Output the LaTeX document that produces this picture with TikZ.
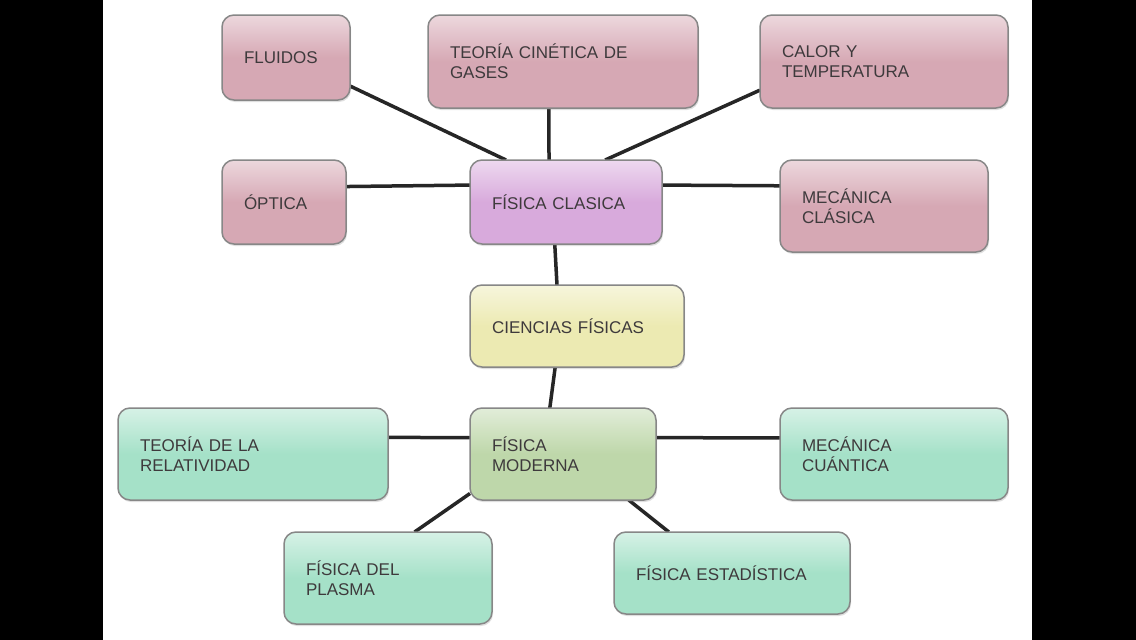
\documentclass[tikz,border=0pt]{standalone}
\usepackage{fontspec}
\setmainfont{Liberation Sans}
\usetikzlibrary{calc,positioning,shadows,backgrounds}

\definecolor{rosa}{RGB}{214,168,180}
\definecolor{lila}{RGB}{216,170,220}
\definecolor{amarillo}{RGB}{236,234,178}
\definecolor{verde}{RGB}{190,215,170}
\definecolor{menta}{RGB}{165,225,200}
\definecolor{borde}{RGB}{135,135,135}
\definecolor{letra}{RGB}{62,58,60}

\tikzset{
  caja/.style={draw=borde, line width=1.5pt, rounded corners=12pt,
    inner xsep=22pt, inner ysep=0pt, outer sep=0pt, align=left,
    text=letra, font=\fontsize{17}{20}\selectfont,
    drop shadow={opacity=.25, shadow xshift=1pt, shadow yshift=-2pt}},
  cajarosa/.style={caja, top color=rosa!45!white, bottom color=rosa, middle color=rosa},
  cajalila/.style={caja, top color=lila!45!white, bottom color=lila, middle color=lila},
  cajaamarilla/.style={caja, top color=amarillo!45!white, bottom color=amarillo, middle color=amarillo},
  cajaverde/.style={caja, top color=verde!45!white, bottom color=verde, middle color=verde},
  cajamenta/.style={caja, top color=menta!45!white, bottom color=menta, middle color=menta},
  enlace/.style={line width=3.5pt, black!85}
}

\begin{document}
\begin{tikzpicture}[x=1pt, y=-1pt]
\useasboundingbox (0,0) rectangle (1136,640);

% fisica clasica
\node[cajarosa, text width=84pt, minimum height=85pt] (fluidos) at (286,57.5) {FLUIDOS};
\node[cajarosa, text width=226pt, minimum height=93pt] (cinetica) at (563,61.5) {TEORÍA CINÉTICA DE\\GASES};
\node[cajarosa, text width=204pt, minimum height=93pt] (calor) at (884,61.5) {CALOR Y\\TEMPERATURA};
\node[cajarosa, text width=80pt, minimum height=84pt] (optica) at (284,202) {ÓPTICA};
\node[cajalila, text width=148pt, minimum height=84pt] (clasica) at (566,202) {FÍSICA CLASICA};
\node[cajarosa, text width=164pt, minimum height=92pt] (mecclasica) at (884,206) {MECÁNICA\\CLÁSICA};

% centro
\node[cajaamarilla, text width=170pt, minimum height=82pt] (ciencias) at (577,326) {CIENCIAS FÍSICAS};

% fisica moderna
\node[cajaverde, text width=142pt, minimum height=92pt] (moderna) at (563,454) {FÍSICA\\MODERNA};
\node[cajamenta, text width=226pt, minimum height=92pt] (relatividad) at (253,454) {TEORÍA DE LA\\RELATIVIDAD};
\node[cajamenta, text width=184pt, minimum height=92pt] (cuantica) at (894,454) {MECÁNICA\\CUÁNTICA};
\node[cajamenta, text width=164pt, minimum height=92pt] (plasma) at (388,578) {FÍSICA DEL\\PLASMA};
\node[cajamenta, text width=192pt, minimum height=82pt] (estadistica) at (732,573) {FÍSICA ESTADÍSTICA};

\begin{pgfonlayer}{background}
\fill[white] (0,0) rectangle (1136,640);
\fill[black] (0,0) rectangle (103,640);
\fill[black] (1032,0) rectangle (1136,640);

\draw[enlace] (fluidos.-24) -- (clasica.145);
\draw[enlace] (cinetica.-107) -- (clasica.112);
\draw[enlace] (calor.-167) -- (clasica.47);
\draw[enlace] (optica.14) -- (clasica.170);
\draw[enlace] (clasica.10) -- (mecclasica.169);
\draw[enlace] (clasica.-105) -- (ciencias.116);
\draw[enlace] (ciencias.-118) -- (moderna.106);
\draw[enlace] (relatividad.7) -- (moderna.170);
\draw[enlace] (moderna.10) -- (cuantica.172);
\draw[enlace] (moderna.-157) -- (plasma.60);
\draw[enlace] (moderna.-35) -- (estadistica.147);
\end{pgfonlayer}
\end{tikzpicture}
\end{document}
